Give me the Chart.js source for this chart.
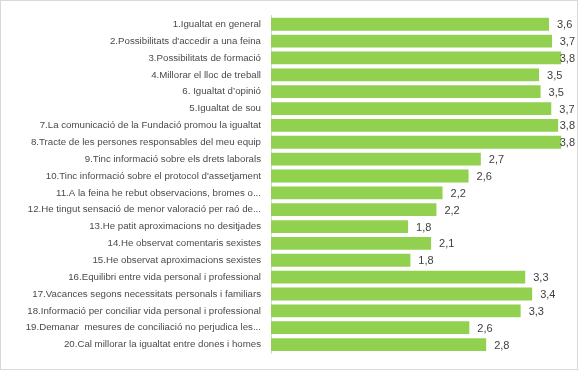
<!DOCTYPE html>
<html>
<head>
<meta charset="utf-8">
<script src="https://cdn.jsdelivr.net/npm/chart.js@4/dist/chart.umd.min.js"></script>
<style>
  body { margin: 0; background: #fff; }
  canvas { display: block; }
</style>
</head>
<body>
<canvas id="chart" width="578" height="370"></canvas>
<script>
// categories, top to bottom
const items = [
  '1.Igualtat en general',
  "2.Possibilitats d'accedir a una feina",
  '3.Possibilitats de formació',
  '4.Millorar el lloc de treball',
  '6. Igualtat d\u2019opinió',
  '5.Igualtat de sou',
  '7.La comunicació de la Fundació promou la igualtat',
  '8.Tracte de les persones responsables del meu equip',
  '9.Tinc informació sobre els drets laborals',
  "10.Tinc informació sobre el protocol d'assetjament",
  '11.A la feina he rebut observacions, bromes o...',
  '12.He tingut sensació de menor valoració per raó de...',
  '13.He patit aproximacions no desitjades',
  '14.He observat comentaris sexistes',
  '15.He observat aproximacions sexistes',
  '16.Equilibri entre vida personal i professional',
  '17.Vacances segons necessitats personals i familiars',
  '18.Informació per conciliar vida personal i professional',
  '19.Demanar  mesures de conciliació no perjudica les...',
  '20.Cal millorar la igualtat entre dones i homes'
];

// average score per item
const scores = [3.63, 3.67, 3.79, 3.50, 3.52, 3.66, 3.75, 3.79, 2.74, 2.58,
                2.24, 2.16, 1.79, 2.09, 1.82, 3.32, 3.41, 3.26, 2.59, 2.81];

const scaleMin = 0;
const scaleMax = 3.8;

const fmt = v => v.toFixed(1).replace('.', ',');
const fontFamily = '"Liberation Sans Narrow", "Liberation Sans", sans-serif';

// draws the value next to the end of each bar
const valueLabels = {
  id: 'valueLabels',
  afterDatasetsDraw(chart) {
    const ctx = chart.ctx;
    const meta = chart.getDatasetMeta(0);
    ctx.save();
    ctx.font = '11px ' + fontFamily;
    ctx.fillStyle = '#404040';
    ctx.textBaseline = 'middle';
    meta.data.forEach((bar, i) => {
      const txt = fmt(scores[i]);
      const w = ctx.measureText(txt).width;
      let x = bar.x + 8;
      if (x + w > 575) x = 575 - w;
      ctx.fillText(txt, x, bar.y + 1);
    });
    ctx.restore();
  }
};

// light grey frame round the whole chart
const frame = {
  id: 'frame',
  beforeDraw(chart) {
    const ctx = chart.ctx;
    ctx.save();
    ctx.fillStyle = '#fff';
    ctx.fillRect(0, 0, chart.width, chart.height);
    ctx.strokeStyle = '#d9d9d9';
    ctx.lineWidth = 1;
    ctx.strokeRect(0.5, 0.5, chart.width - 1, chart.height - 1);
    ctx.restore();
  }
};

new Chart(document.getElementById('chart'), {
  type: 'bar',
  data: {
    labels: items,
    datasets: [{
      data: scores,
      backgroundColor: '#92d050',
      borderWidth: 0,
      barPercentage: 0.76,
      categoryPercentage: 1
    }]
  },
  options: {
    indexAxis: 'y',
    responsive: false,
    animation: false,
    layout: { padding: { top: 11, bottom: 17, left: 0, right: 16 } },
    plugins: {
      legend: { display: false },
      tooltip: { enabled: false }
    },
    scales: {
      x: {
        display: false,
        min: scaleMin,
        max: scaleMax
      },
      y: {
        afterFit(scale) { scale.width = 271; },
        grid: { display: false, drawTicks: false },
        border: { display: true, color: '#d9d9d9', width: 1 },
        ticks: {
          padding: 10,
          color: '#4a4a4a',
          autoSkip: false,
          font: { family: fontFamily, size: 9.7 }
        }
      }
    }
  },
  plugins: [frame, valueLabels]
});
</script>
</body>
</html>
